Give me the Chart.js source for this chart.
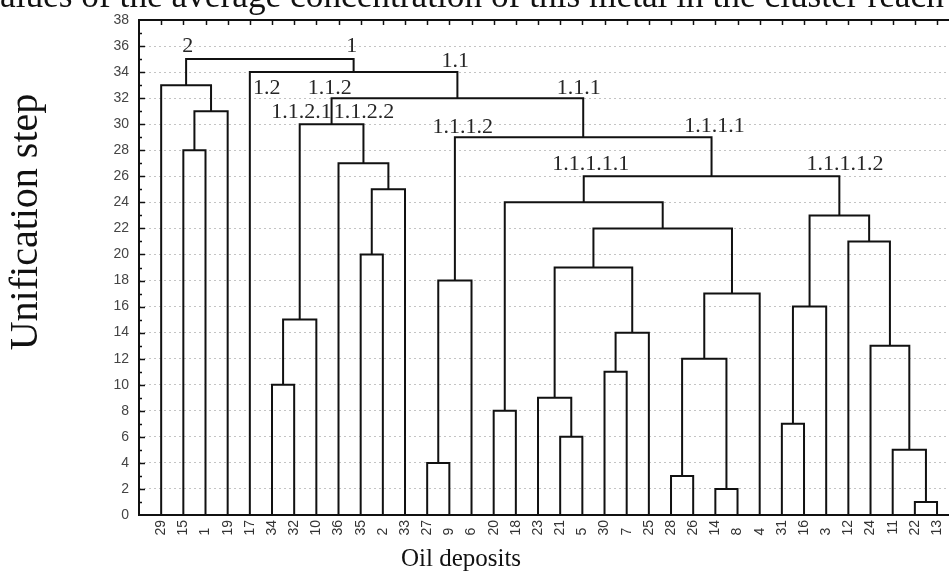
<!DOCTYPE html>
<html>
<head>
<meta charset="utf-8">
<script src="https://cdn.jsdelivr.net/npm/chart.js@4.4.1/dist/chart.umd.min.js"></script>
<style>
  html, body { margin: 0; padding: 0; background: #ffffff; }
  #wrap { width: 949px; height: 576px; position: relative; }
  canvas { display: block; }
</style>
</head>
<body>
<div id="wrap"><canvas id="c" width="949" height="576"></canvas></div>
<script>
// ---- Leaf order (oil deposits, left to right) ----
const leafLabels = [29, 15, 1, 19, 17, 34, 32, 10, 36, 35, 2, 33, 27, 9, 6, 20, 18, 23, 21, 5, 30, 7, 25, 28, 26, 14, 8, 4, 31, 16, 3, 12, 24, 11, 22, 13];

// ---- Merges: children are leaf numbers ("22") or earlier merges ("m0") ----
const mergeLeft  = ['22','14','28','27','11','21','31','20','23','34','30','m2','24','m10','m9','m6','m11','m3','m8','35','12','m18','m15','m7','m19','m23','36','15','m17','m14','m27','m29','29','17','m32'];
const mergeRight = ['13','8','26','9','m0','5','16','18','m5','32','7','m1','m4','25','10','3','4','6','m13','2','m12','m16','m20','m21','33','m22','m24','1','m25','m26','19','m28','m30','m31','m33'];
const mergeHeight = [1, 2, 3, 4, 5, 6, 7, 8, 9, 10, 11, 12, 13, 14, 15, 16, 17, 18, 19, 20, 21, 22, 23, 24, 25, 26, 27, 28, 29, 30, 31, 32, 33, 34, 35];

// ---- Y axis tick values ----
const yTickValues = [0, 2, 4, 6, 8, 10, 12, 14, 16, 18, 20, 22, 24, 26, 28, 30, 32, 34, 36, 38];

// ---- Cluster annotations (text, position in axis units) ----
const clusterNames  = ['2', '1', '1.1', '1.2', '1.1.2', '1.1.2.1', '1.1.2.2', '1.1.1', '1.1.1.2', '1.1.1.1', '1.1.1.1.1', '1.1.1.1.2'];
const clusterLabelX = [2.2, 9.6, 14.27, 5.76, 8.6, 7.33, 10.15, 19.84, 14.6, 25.96, 20.38, 31.85];
const clusterLabelY = [36, 36, 34.85, 32.75, 32.75, 30.9, 30.9, 32.8, 29.8, 29.85, 26.95, 26.95];

const titleText = 'alues of the average concentration of this metal in the cluster reach';
const yTitle = 'Unification step';
const xTitle = 'Oil deposits';

// ---- Build dendrogram segments from the merge table ----
const nodeX = {}, nodeH = {};
leafLabels.forEach((lab, i) => { nodeX[String(lab)] = i + 1; nodeH[String(lab)] = 0; });
const datasets = [];
mergeLeft.forEach((l, k) => {
  const r = mergeRight[k], h = mergeHeight[k];
  const xl = nodeX[l], xr = nodeX[r];
  datasets.push({
    data: [{x: xl, y: nodeH[l]}, {x: xl, y: h}, {x: xr, y: h}, {x: xr, y: nodeH[r]}],
    showLine: true, borderColor: '#111', borderWidth: 2, pointRadius: 0,
    tension: 0, fill: false, clip: false
  });
  nodeX['m' + k] = (xl + xr) / 2;
  nodeH['m' + k] = h;
});

const serif = '"Liberation Serif", "Times New Roman", serif';

const decor = {
  id: 'decor',
  afterDraw(chart) {
    const {ctx, chartArea: {left, top, right, bottom}, scales: {x, y}} = chart;
    ctx.save();
    // frame
    ctx.strokeStyle = '#111';
    ctx.lineWidth = 2;
    ctx.beginPath();
    ctx.moveTo(right + 2, top); ctx.lineTo(left, top); ctx.lineTo(left, bottom); ctx.lineTo(right + 2, bottom);
    ctx.stroke();
    // y tick marks (major + minor) pointing inside
    ctx.lineWidth = 1.5;
    for (let v = 1; v < 38; v++) {
      const py = Math.round(y.getPixelForValue(v)) + 0.5;
      ctx.beginPath();
      ctx.moveTo(left, py); ctx.lineTo(left + (v % 2 === 0 ? 6 : 3), py);
      ctx.stroke();
    }
    // top tick marks at leaves
    leafLabels.forEach((_, i) => {
      const px = Math.round(x.getPixelForValue(i + 1)) + 0.5;
      ctx.beginPath(); ctx.moveTo(px, top); ctx.lineTo(px, top + 5); ctx.stroke();
    });
    // cluster labels
    ctx.fillStyle = '#262626';
    ctx.font = '22px ' + serif;
    ctx.textAlign = 'center';
    ctx.textBaseline = 'middle';
    clusterNames.forEach((t, i) => {
      ctx.fillText(t, x.getPixelForValue(clusterLabelX[i]), y.getPixelForValue(clusterLabelY[i]));
    });
    // titles
    ctx.fillStyle = '#111';
    ctx.textBaseline = 'alphabetic';
    ctx.font = '32px ' + serif;
    const w = ctx.measureText(titleText).width;
    const fs = Math.min(40, 32 * 944 / w);
    ctx.font = fs.toFixed(1) + 'px ' + serif;
    ctx.textAlign = 'left';
    ctx.fillText(titleText, 0, 7);
    ctx.font = '25px ' + serif;
    ctx.textAlign = 'center';
    ctx.fillText(xTitle, 461, 566);
    ctx.save();
    ctx.translate(37, 222);
    ctx.rotate(-Math.PI / 2);
    ctx.font = '40px ' + serif;
    ctx.fillText(yTitle, 0, 0);
    ctx.restore();
    ctx.restore();
  }
};

new Chart(document.getElementById('c'), {
  type: 'scatter',
  data: { datasets },
  options: {
    responsive: false,
    animation: false,
    devicePixelRatio: 1,
    layout: { padding: { top: 20, right: 0, left: 0, bottom: 0 } },
    plugins: { legend: { display: false }, tooltip: { enabled: false } },
    scales: {
      x: {
        type: 'linear', min: 0, max: 36.54,
        afterBuildTicks: s => { s.ticks = leafLabels.map((_, i) => ({ value: i + 1 })); },
        afterFit: s => { s.height = 61; s.paddingRight = 0; s.paddingLeft = 0; },
        grid: { display: false, drawTicks: false },
        border: { display: false },
        ticks: {
          autoSkip: false, minRotation: 90, maxRotation: 90, padding: 5,
          color: '#333', font: { family: '"Liberation Sans", Arial, sans-serif', size: 14 },
          callback: v => String(leafLabels[Math.round(v) - 1]).padEnd(2, '\u2007')
        }
      },
      y: {
        type: 'linear', min: 0, max: 38,
        afterBuildTicks: s => { s.ticks = yTickValues.map(v => ({ value: v })); },
        afterFit: s => { s.width = 139; s.paddingTop = 0; s.paddingBottom = 0; },
        grid: { color: '#c4c4c4', lineWidth: 1, drawTicks: false },
        border: { display: false, dash: [2, 3] },
        ticks: {
          padding: 10, color: '#444',
          font: { family: '"Liberation Sans", Arial, sans-serif', size: 14 }
        }
      }
    }
  },
  plugins: [decor]
});
</script>
</body>
</html>
